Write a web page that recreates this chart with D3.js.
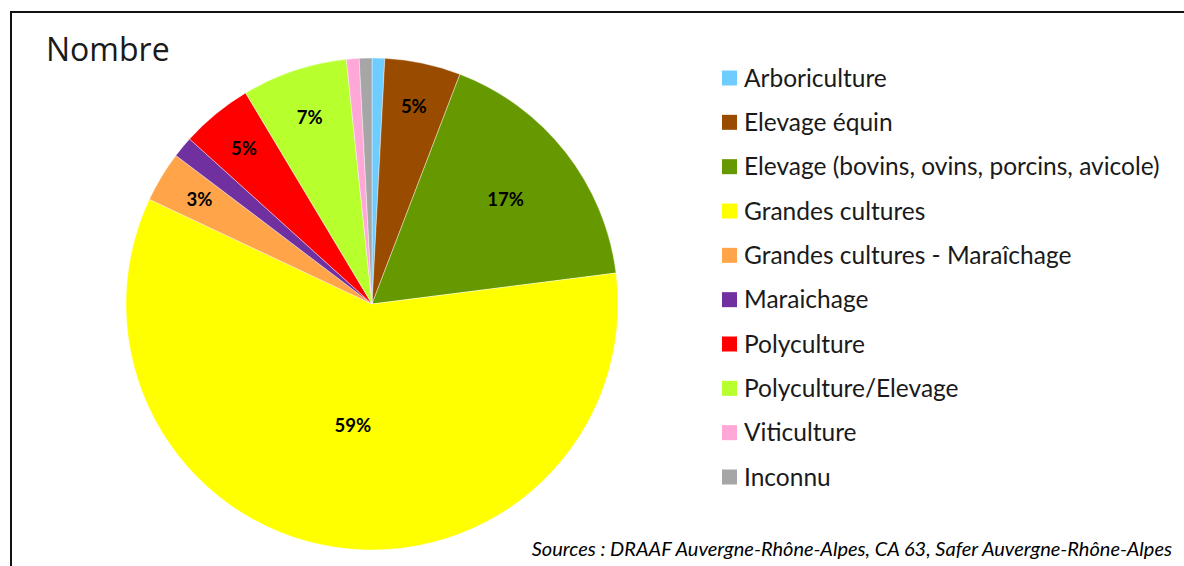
<!DOCTYPE html>
<html lang="fr">
<head>
  <meta charset="UTF-8">
  <title>Nombre</title>
  <style>
    body { margin: 0; background: #fff; }
    svg { display: block; }
  </style>
  <script src="https://d3js.org/d3.v7.min.js"></script>
</head>
<body>
<script>
  // categories, counts and colours
  var categories = ["Arboriculture", "Elevage équin", "Elevage (bovins, ovins, porcins, avicole)",
    "Grandes cultures", "Grandes cultures - Maraîchage", "Maraichage", "Polyculture",
    "Polyculture/Elevage", "Viticulture", "Inconnu"];
  var counts = [3, 18, 62, 213, 12, 5, 17, 25, 3, 3];
  var colors = ["#6FCCFF", "#994C00", "#669900", "#FFFF00", "#FFA448", "#7030A0",
    "#FF0000", "#B8FF2E", "#FFA8D8", "#A6A6A6"];

  var width = 1184, height = 566;
  var cx = 372, cy = 304, radius = 246;

  var svg = d3.select("body").append("svg")
      .attr("width", width)
      .attr("height", height);

  // frame (right and bottom edges fall outside the picture)
  svg.append("rect")
      .attr("x", 11).attr("y", 12)
      .attr("width", 1200).attr("height", 600)
      .attr("fill", "none")
      .attr("stroke", "#111")
      .attr("stroke-width", 2);

  svg.append("text")
      .attr("x", 46).attr("y", 61)
      .style("font-family", "'Open Sans', sans-serif")
      .style("font-size", "32px")
      .attr("fill", "#1a1a1a")
      .text("Nombre");

  var data = categories.map(function (c, i) { return { name: c, value: counts[i], color: colors[i] }; });
  var total = d3.sum(counts);

  var pie = d3.pie().sort(null).value(function (d) { return d.value; });
  var arc = d3.arc().innerRadius(0).outerRadius(radius);

  var g = svg.append("g").attr("transform", "translate(" + cx + "," + cy + ")");
  var arcs = pie(data);

  g.selectAll("path").data(arcs).enter().append("path")
      .attr("d", arc)
      .attr("fill", function (d) { return d.data.color; })
      .attr("stroke", "#fff")
      .attr("stroke-width", 0.4);

  // labels: bigger slices get their label nearer the centre
  function labelRadius(d) {
    var a = d.endAngle - d.startAngle;
    if (a > 3) return radius * 0.5;
    if (a > 0.8) return radius * 0.69;
    if (a > 0.4) return radius * 0.8;
    return radius * 0.82;
  }

  g.selectAll("text.lab").data(arcs.filter(function (d) { return d.data.value / total >= 0.025; }))
    .enter().append("text")
      .attr("class", "lab")
      .attr("transform", function (d) {
        var r = labelRadius(d);
        var c = d3.arc().innerRadius(r).outerRadius(r).centroid(d);
        return "translate(" + c[0] + "," + c[1] + ")";
      })
      .attr("text-anchor", "middle")
      .attr("dy", "0.35em")
      .style("font-family", "Lato, 'Open Sans', sans-serif")
      .style("font-weight", "bold")
      .style("font-size", "18.5px")
      .attr("fill", "#000")
      .text(function (d) { return d3.format(".0%")(d.data.value / total); });

  // legend
  var legendY = d3.scalePoint().domain(categories).range([78, 477]);
  var legend = svg.append("g");
  var item = legend.selectAll("g").data(data).enter().append("g")
      .attr("transform", function (d) { return "translate(722," + legendY(d.name) + ")"; });
  item.append("rect")
      .attr("x", 0).attr("y", -7.5)
      .attr("width", 15).attr("height", 15)
      .attr("fill", function (d) { return d.color; });
  item.append("text")
      .attr("x", 22).attr("dy", "0.35em")
      .style("font-family", "Lato, 'Open Sans', sans-serif")
      .style("font-size", "24.5px")
      .attr("fill", "#1a1a1a")
      .text(function (d) { return d.name; });

  svg.append("text")
      .attr("x", 1172).attr("y", 556)
      .attr("text-anchor", "end")
      .style("font-family", "Lato, sans-serif")
      .style("font-style", "italic")
      .style("font-size", "20px")
      .attr("fill", "#000")
      .text("Sources : DRAAF Auvergne-Rhône-Alpes, CA 63, Safer Auvergne-Rhône-Alpes");
</script>
</body>
</html>
